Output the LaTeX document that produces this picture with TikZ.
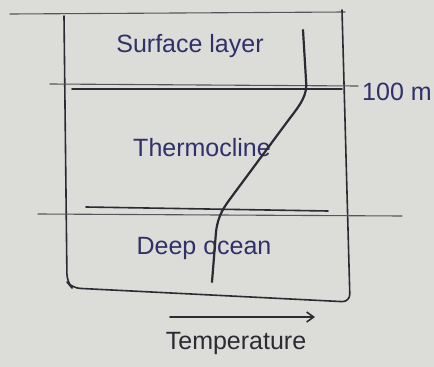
\documentclass[tikz,border=0pt]{standalone}
\usepackage{fontspec}
\setmainfont{Liberation Sans}
\usetikzlibrary{arrows.meta}
\definecolor{paper}{HTML}{DCDCD8}
\definecolor{ink}{HTML}{2B2B33}
\definecolor{blueink}{HTML}{30306A}
\tikzset{
  pen/.style={draw=ink, line width=1.6pt, line cap=round, line join=round},
  thinpen/.style={draw=ink!80, line width=1.1pt, line cap=round},
  lbl/.style={text=blueink, font=\fontsize{25}{28}\selectfont, inner sep=0pt},
  blbl/.style={text=ink, font=\fontsize{25}{28}\selectfont, inner sep=0pt},
}
\begin{document}
\begin{tikzpicture}[x=1pt,y=-1pt]
\fill[paper] (0,0) rectangle (434,367);
\useasboundingbox (0,0) rectangle (434,367);
% page top line
\draw[thinpen] (10,14) -- (345,12);
% box
\coordinate (tl) at (64,16);
\coordinate (bl) at (72,288);
\coordinate (br) at (350,302);
\coordinate (tr) at (342,10);
\draw[pen, rounded corners=8pt] (tl) -- (67,282) -- (bl) -- (br) -- (tr);
% layer lines
\coordinate (l1a) at (50,84);
\coordinate (l1b) at (358,86);
\draw[thinpen] (l1a) -- (l1b);
\draw[pen] (72,89) -- (342,89);
\coordinate (l2a) at (38,214);
\coordinate (l2b) at (402,216);
\draw[thinpen] (l2a) -- (l2b);
\draw[pen] (86,207) -- (328,211);
% labels
\node[lbl] (surf) at (190,46) {Surface layer};
\node[lbl] (thermo) at (202,148) {Thermocline};
\node[lbl] (deep) at (204,248) {Deep ocean};
\node[lbl, anchor=west] (depth) at (362,92) {100 m};
% temperature profile
\coordinate (p0) at (303,30);
\coordinate (p3) at (212,282);
\draw[pen, line width=2.2pt] (p0) -- (306,80) .. controls (308,95) and (300,105) .. (290,118)
  -- (233,195) .. controls (224,207) and (218,215) .. (216,232) -- (p3);
% temperature axis
\coordinate (ta) at (170,317);
\coordinate (tb) at (315,317);
\draw[pen, -{Straight Barb[length=7pt,width=10pt]}] (ta) -- (tb);
\node[blbl] (temp) at (236,343) {Temperature};
\end{tikzpicture}
\end{document}
